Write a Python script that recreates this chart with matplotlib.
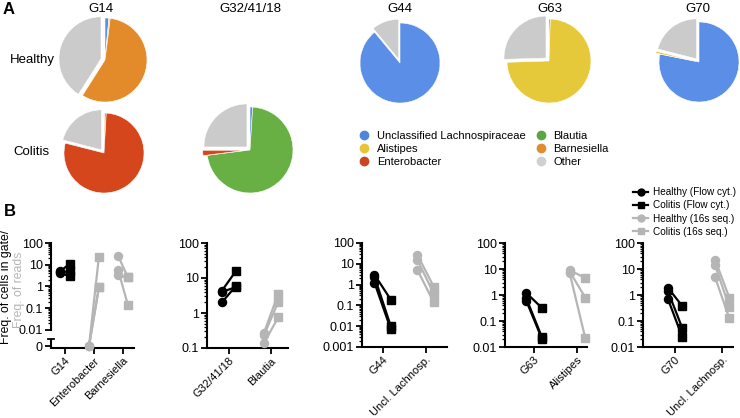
import matplotlib
matplotlib.use("Agg")
import matplotlib.pyplot as plt
from matplotlib.lines import Line2D
from matplotlib.ticker import FixedLocator, NullFormatter

plt.rcParams['font.family'] = ['Liberation Sans', 'DejaVu Sans']

W, H = 740, 418
fig = plt.figure(figsize=(W / 100, H / 100), dpi=100)


def rect(l, t, r, b):
    return [l / W, 1 - b / H, (r - l) / W, (b - t) / H]


def fx(x):
    return x / W


def fy(y):
    return 1 - y / H


# ---------------- Data: panel A (pie fractions, %) ----------------
taxa = ["Unclassified Lachnospiraceae", "Alistipes", "Barnesiella",
        "Blautia", "Enterobacter", "Other"]
taxa_colors = ["#5b8ee6", "#e6c93a", "#e38b2a", "#69b044", "#d5461d", "#cbcbcb"]
legend_colors = ["#4f86dc", "#e8c43a", "#e38b2e", "#5aa642", "#cc4422", "#d0d0d0"]

pie_g14_healthy = [1.5, 0.5, 57, 0, 0, 41]
pie_g14_colitis = [0, 0.3, 0.6, 0, 78, 21]
pie_g32_colitis = [1, 0, 0, 72, 2, 25]
pie_g44_healthy = [89, 0, 0, 0, 0, 11]
pie_g63_healthy = [0.5, 74, 0, 0, 0, 25.5]
pie_g70_healthy = [78, 0.8, 0, 0, 0, 21]

pie_groups = ["G14", "G32/41/18", "G44", "G63", "G70"]
pie_rows = ["Healthy", "Colitis"]

# ---------------- Data: panel B ----------------
ZERO_POS = 10 ** -2.74  # where "0" sits on the broken log axis

p1_categories = ["G14", "Enterobacter", "Barnesiella"]
g14_flow_healthy = [5.0, 4.5, 4.2]
g14_flow_colitis = [11, 5, 3]
enterobacter_seq_healthy = [0, 0, 0]
enterobacter_seq_colitis = [23, 0.9, 0.9]
barnesiella_seq_healthy = [26, 5.9, 3.2]
barnesiella_seq_colitis = [2.6, 0.14, 2.6]

p2_categories = ["G32/41/18", "Blautia"]
g32_flow_healthy = [4.3, 4.0, 2.0]
g32_flow_colitis = [16, 5.5, 6]
blautia_seq_healthy = [0.27, 0.23, 0.14]
blautia_seq_colitis = [3.6, 2.1, 0.75]

p3_categories = ["G44", "Uncl. Lachnosp."]
g44_flow_healthy = [3.0, 2.4, 1.25]
g44_flow_colitis = [0.19, 0.01, 0.0072]
lachno_g44_seq_healthy = [27, 15.5, 5.2]
lachno_g44_seq_colitis = [0.8, 0.37, 0.14]

p4_categories = ["G63", "Alistipes"]
g63_flow_healthy = [1.2, 0.75, 0.6]
g63_flow_colitis = [0.32, 0.024, 0.021]
alistipes_seq_healthy = [9, 8, 7]
alistipes_seq_colitis = [4.5, 0.8, 0.022]

p5_categories = ["G70", "Uncl. Lachnosp."]
g70_flow_healthy = [1.9, 1.4, 0.7]
g70_flow_colitis = [0.38, 0.055, 0.025]
lachno_g70_seq_healthy = [23, 14, 4.8]
lachno_g70_seq_colitis = [0.8, 0.35, 0.13]

legend_b_labels = ["Healthy (Flow cyt.)", "Colitis (Flow cyt.)",
                   "Healthy (16s seq.)", "Colitis (16s seq.)"]

BLACK = "#000000"
GREY = "#b5b5b5"

# ---------------- Panel A: pies ----------------
pies = [
    ("G14", "Healthy", pie_g14_healthy, (105, 60, 42), ["Other"]),
    ("G14", "Colitis", pie_g14_colitis, (104, 153, 40), ["Other"]),
    ("G32/41/18", "Colitis", pie_g32_colitis, (250, 150, 43), ["Enterobacter", "Other"]),
    ("G44", "Healthy", pie_g44_healthy, (400, 63, 40), ["Other"]),
    ("G63", "Healthy", pie_g63_healthy, (549, 61, 42), ["Other"]),
    ("G70", "Healthy", pie_g70_healthy, (699, 62, 40), ["Alistipes", "Other"]),
]

for grp, row, vals, (cx, cy, r), expl in pies:
    s = 1.15 * r
    ax = fig.add_axes(rect(cx - s, cy - s, cx + s, cy + s))
    v, c, e = [], [], []
    for name, val, col in zip(taxa, vals, taxa_colors):
        if val > 0:
            v.append(val)
            c.append(col)
            e.append(0.1 if name in expl else 0.0)
    ax.pie(v, colors=c, startangle=90, counterclock=False, explode=e,
           wedgeprops=dict(edgecolor="white", linewidth=0.4))
    ax.set_xlim(-1.15, 1.15)
    ax.set_ylim(-1.15, 1.15)
    ax.set_aspect("equal")
    ax.axis("off")

title_x = {"G14": 101, "G32/41/18": 250, "G44": 400, "G63": 550, "G70": 698}
for g in pie_groups:
    fig.text(fx(title_x[g]), fy(9), g, ha="center", va="center", fontsize=9.5)

fig.text(fx(10), fy(60), pie_rows[0], ha="left", va="center", fontsize=9.5)
fig.text(fx(13), fy(152), pie_rows[1], ha="left", va="center", fontsize=9.5)
fig.text(fx(9), fy(9), "A", ha="center", va="center", fontsize=12, fontweight="bold")
fig.text(fx(10), fy(212), "B", ha="center", va="center", fontsize=12, fontweight="bold")

handles_a = [Line2D([0], [0], ls="none", marker="o", ms=6, color=col, mec=col)
             for col in legend_colors]
order = [0, 1, 4, 3, 2, 5]
fig.legend([handles_a[i] for i in order], [taxa[i] for i in order], ncol=2,
           loc="upper left", bbox_to_anchor=(fx(360), fy(131)), frameon=False,
           fontsize=8, handlelength=0.8, handletextpad=0.7, labelspacing=0.25,
           columnspacing=1.0, borderpad=0, borderaxespad=0)

# ---------------- Panel B ----------------
panels = [
    dict(cats=p1_categories,
         groups=[(g14_flow_healthy, g14_flow_colitis, BLACK),
                 (enterobacter_seq_healthy, enterobacter_seq_colitis, GREY),
                 (barnesiella_seq_healthy, barnesiella_seq_colitis, GREY)],
         box=(51, 243, 134, 348), xlim=(-0.48, 2.38), off=0.17,
         ylim=(10 ** -2.83, 100),
         yticks=[ZERO_POS, 0.01, 0.1, 1, 10, 100],
         ylabels=["0", "0.01", "0.1", "1", "10", "100"], broken=True, dec=(-2, 2)),
    dict(cats=p2_categories,
         groups=[(g32_flow_healthy, g32_flow_colitis, BLACK),
                 (blautia_seq_healthy, blautia_seq_colitis, GREY)],
         box=(207, 243, 288, 348), xlim=(-0.52, 1.4), off=0.17,
         ylim=(0.1, 100), yticks=[0.1, 1, 10, 100],
         ylabels=["0.1", "1", "10", "100"], broken=False, dec=(-1, 2)),
    dict(cats=p3_categories,
         groups=[(g44_flow_healthy, g44_flow_colitis, BLACK),
                 (lachno_g44_seq_healthy, lachno_g44_seq_colitis, GREY)],
         box=(362, 243, 447, 347), xlim=(-0.48, 1.5), off=0.19,
         ylim=(0.001, 100), yticks=[0.001, 0.01, 0.1, 1, 10, 100],
         ylabels=["0.001", "0.01", "0.1", "1", "10", "100"], broken=False, dec=(-3, 2)),
    dict(cats=p4_categories,
         groups=[(g63_flow_healthy, g63_flow_colitis, BLACK),
                 (alistipes_seq_healthy, alistipes_seq_colitis, GREY)],
         box=(505, 243, 587, 347), xlim=(-0.67, 1.22), off=0.18,
         ylim=(0.01, 100), yticks=[0.01, 0.1, 1, 10, 100],
         ylabels=["0.01", "0.1", "1", "10", "100"], broken=False, dec=(-2, 2)),
    dict(cats=p5_categories,
         groups=[(g70_flow_healthy, g70_flow_colitis, BLACK),
                 (lachno_g70_seq_healthy, lachno_g70_seq_colitis, GREY)],
         box=(643, 243, 733, 347), xlim=(-0.68, 1.23), off=0.15,
         ylim=(0.01, 100), yticks=[0.01, 0.1, 1, 10, 100],
         ylabels=["0.01", "0.1", "1", "10", "100"], broken=False, dec=(-2, 2)),
]


def pos(v):
    return v if v > 0 else ZERO_POS


for p in panels:
    ax = fig.add_axes(rect(*p["box"]))
    ax.set_yscale("log")
    for i, (hv, cv, col) in enumerate(p["groups"]):
        xh, xc = i - p["off"], i + p["off"]
        for a, b in zip(hv, cv):
            ax.plot([xh, xc], [pos(a), pos(b)], color=col, lw=1.6, zorder=2,
                    clip_on=False, solid_capstyle="round")
        ax.plot([xh] * len(hv), [pos(a) for a in hv], ls="none", marker="o",
                ms=5.8, color=col, zorder=3, clip_on=False)
        ax.plot([xc] * len(cv), [pos(b) for b in cv], ls="none", marker="s",
                ms=5.8, color=col, zorder=3, clip_on=False)
    ax.set_xlim(*p["xlim"])
    ax.set_ylim(*p["ylim"])
    ax.set_yticks(p["yticks"])
    ax.set_yticklabels(p["ylabels"])
    d0, d1 = p["dec"]
    ax.yaxis.set_minor_locator(FixedLocator(
        [m * 10.0 ** e for e in range(d0, d1) for m in range(2, 10)]))
    ax.yaxis.set_minor_formatter(NullFormatter())
    ax.set_xticks(range(len(p["cats"])))
    ax.set_xticklabels(p["cats"], rotation=45, ha="right", rotation_mode="anchor")
    ax.tick_params(axis="y", which="major", direction="out", length=4,
                   width=1.3, labelsize=9, pad=2)
    ax.tick_params(axis="x", which="major", direction="out", length=4,
                   width=1.3, labelsize=8, pad=1.5)
    ax.tick_params(axis="y", which="minor", direction="out", length=2, width=0.9)
    for sp in ("top", "right"):
        ax.spines[sp].set_visible(False)
    for sp in ("left", "bottom"):
        ax.spines[sp].set_linewidth(1.5)
    if p["broken"]:
        ax.spines["left"].set_bounds(0.01, 100)
        tr = ax.get_yaxis_transform()
        low_top = 10 ** -2.41
        ax.plot([0, 0], [low_top, p["ylim"][0]], transform=tr, color="k",
                lw=1.5, clip_on=False, solid_capstyle="butt")
        ax.plot([-0.035, 0.035], [low_top, low_top], transform=tr, color="k",
                lw=1.3, clip_on=False)

fig.text(fx(6), fy(287), "Freq. of cells in gate/", rotation=90,
         ha="center", va="center", fontsize=8.8, color=BLACK)
fig.text(fx(19), fy(290), "Freq. of reads", rotation=90,
         ha="center", va="center", fontsize=8.8, color=GREY)

handles_b = [
    Line2D([0], [0], color=BLACK, lw=1.6, marker="o", ms=5),
    Line2D([0], [0], color=BLACK, lw=1.6, marker="s", ms=5),
    Line2D([0], [0], color=GREY, lw=1.6, marker="o", ms=5),
    Line2D([0], [0], color=GREY, lw=1.6, marker="s", ms=5),
]
fig.legend(handles_b, legend_b_labels, loc="upper left",
           bbox_to_anchor=(fx(633), fy(187)), frameon=False, fontsize=7.2,
           handlelength=1.5, handletextpad=0.5, labelspacing=0.33,
           borderpad=0, borderaxespad=0)

fig.savefig("out.png", dpi=100)
